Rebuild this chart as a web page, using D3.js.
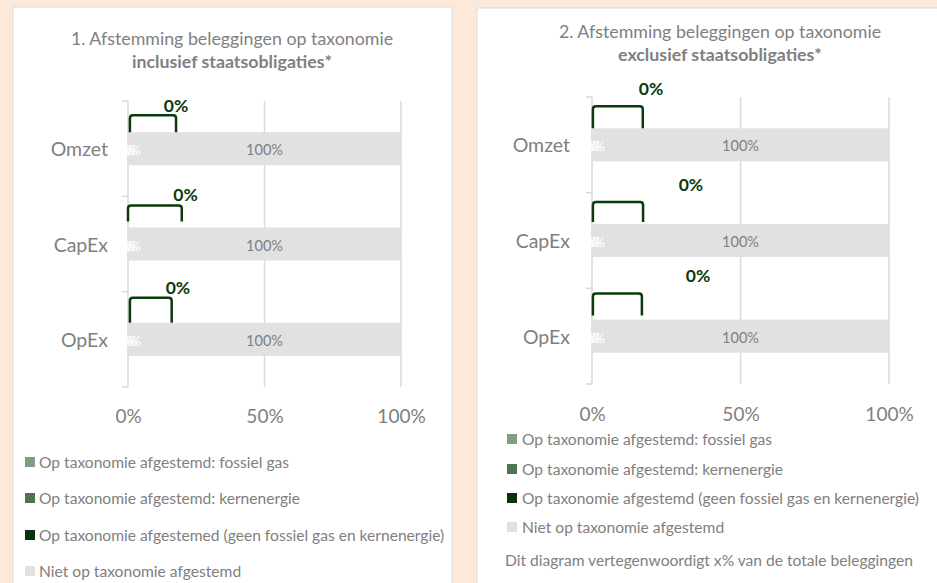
<!DOCTYPE html>
<html><head><meta charset="utf-8">
<script src="https://cdn.jsdelivr.net/npm/d3@7"></script>
<style>
html,body{margin:0;padding:0;background:#fde9d9;}
svg{display:block;font-family:Lato,"Open Sans",sans-serif;}
</style></head>
<body><svg id="c" width="937" height="583"></svg>
<script>
// ---- data ----
const categories = ["Omzet", "CapEx", "OpEx"];
const xTicks = [0, 50, 100];
const titles1 = ["1. Afstemming beleggingen op taxonomie", "inclusief staatsobligaties*"];
const titles2 = ["2. Afstemming beleggingen op taxonomie", "exclusief staatsobligaties*"];
const legend1 = ["Op taxonomie afgestemd: fossiel gas", "Op taxonomie afgestemd: kernenergie",
  "Op taxonomie afgestemed (geen fossiel gas en kernenergie)", "Niet op taxonomie afgestemd"];
const legend2 = ["Op taxonomie afgestemd: fossiel gas", "Op taxonomie afgestemd: kernenergie",
  "Op taxonomie afgestemd (geen fossiel gas en kernenergie)", "Niet op taxonomie afgestemd"];
const footnote2 = "Dit diagram vertegenwoordigt x% van de totale beleggingen";
// chart 1 (inclusief staatsobligaties)
const fossilGas1 = [0, 0, 0];
const nuclear1 = [0, 0, 0];
const aligned1 = [0, 0, 0];
const notAligned1 = [100, 100, 100];
// chart 2 (exclusief staatsobligaties)
const fossilGas2 = [0, 0, 0];
const nuclear2 = [0, 0, 0];
const aligned2 = [0, 0, 0];
const notAligned2 = [100, 100, 100];
const segmentLabels = ["x%", "x%", "x%", "100%"];
const calloutLabels1 = ["0%", "0%", "0%"];
const calloutLabels2 = ["0%", "0%", "0%"];

// ---- styling / layout ----
const colors = ["#819e82", "#4f7451", "#0a3309", "#e1e1e1"];
const textGray = "#808080";
const green = "#0b3a0b";

const layouts = [
  { panel: [13, 7, 439, 600], plot: { l: 128, r: 401, t: 101, b: 387 },
    titleX: 232, titleY: [38, 61], catRight: 108, axisY: 415,
    legend: { sx: 25, tx: 39, ys: [462, 498, 535, 571] },
    calloutX: [17.6, 21.1, 18.3], calloutDy: [-27, -33, -35],
    bracket: [[0.7, 17.6], [0, 19.7], [0.7, 16.0]], bracketDy: [-17, -22, -25], bracketEnd: [0, -6, 0] },
  { panel: [477, 8, 470, 600], plot: { l: 592, r: 889, t: 97, b: 384 },
    titleX: 720, titleY: [31, 54], catRight: 570, axisY: 413,
    legend: { sx: 507, tx: 522, ys: [439, 469, 498, 527] },
    calloutX: [19.9, 33.3, 35.7], calloutDy: [-40, -39, -44],
    bracket: [[0.3, 17.1], [0.3, 17.2], [0.3, 16.8]], bracketDy: [-22, -22, -26], bracketEnd: [0, -2, -4] }
];

const charts = [
  { titles: titles1, legend: legend1, series: [fossilGas1, nuclear1, aligned1, notAligned1], callouts: calloutLabels1, footnote: null },
  { titles: titles2, legend: legend2, series: [fossilGas2, nuclear2, aligned2, notAligned2], callouts: calloutLabels2, footnote: footnote2 }
];

const svg = d3.select("#c");

charts.forEach((ch, ci) => {
  const L = layouts[ci];
  const g = svg.append("g");
  g.append("rect").attr("x", L.panel[0]).attr("y", L.panel[1]).attr("width", L.panel[2]).attr("height", L.panel[3])
    .attr("fill", "#fff").attr("stroke", "#d9d9d9").attr("stroke-width", 1);

  // title
  ch.titles.forEach((t, i) => {
    g.append("text").attr("x", L.titleX).attr("y", L.titleY[i]).attr("text-anchor", "middle")
      .attr("dominant-baseline", "central").attr("fill", textGray)
      .attr("font-size", "17.8px").attr("font-weight", i === 1 ? "bold" : "normal").text(t);
  });

  const x = d3.scaleLinear().domain([0, 100]).range([L.plot.l, L.plot.r]);
  const y = d3.scaleBand().domain(categories).range([L.plot.t, L.plot.b]).paddingInner(0.654).paddingOuter(0.327);

  // gridlines
  g.append("g").selectAll("line").data(xTicks.filter(d => d > 0)).join("line")
    .attr("x1", d => x(d)).attr("x2", d => x(d)).attr("y1", L.plot.t).attr("y2", L.plot.b)
    .attr("stroke", "#d9d9d9").attr("stroke-width", 1.5);

  // left axis line with ticks at category boundaries
  const step = (L.plot.b - L.plot.t) / categories.length;
  g.append("line").attr("x1", x(0)).attr("x2", x(0)).attr("y1", L.plot.t).attr("y2", L.plot.b)
    .attr("stroke", "#d9d9d9").attr("stroke-width", 1.5);
  g.append("g").selectAll("line").data(d3.range(categories.length + 1)).join("line")
    .attr("x1", x(0) - 6).attr("x2", x(0)).attr("y1", d => L.plot.t + d * step).attr("y2", d => L.plot.t + d * step)
    .attr("stroke", "#d9d9d9").attr("stroke-width", 1.5);

  // x axis labels
  const xAxis = d3.axisBottom(x).tickValues(xTicks).tickFormat(d => d + "%").tickSize(0).tickPadding(0);
  const ax = g.append("g").attr("transform", `translate(0,${L.axisY})`).call(xAxis);
  ax.select(".domain").remove();
  ax.selectAll("text").attr("fill", textGray).attr("font-size", "19px").attr("font-family", "Lato")
    .attr("dy", null).attr("y", 0).attr("dominant-baseline", "central");

  // category labels
  g.append("g").selectAll("text").data(categories).join("text")
    .attr("x", L.catRight).attr("y", d => y(d) + y.bandwidth() / 2).attr("text-anchor", "end")
    .attr("dominant-baseline", "central").attr("fill", textGray).attr("font-size", "19.5px").text(d => d);

  // stacked bars
  const rows = categories.map((c, i) => {
    let acc = 0;
    return ch.series.map((s, si) => { const x0 = acc; acc += s[i]; return { cat: c, si, x0, x1: acc, v: s[i] }; });
  });
  const flat = rows.flat();
  g.append("g").selectAll("rect").data(flat).join("rect")
    .attr("x", d => x(d.x0)).attr("width", d => x(d.x1) - x(d.x0))
    .attr("y", d => y(d.cat)).attr("height", y.bandwidth()).attr("fill", d => colors[d.si]);

  // segment labels
  const labOffsets = [-4, 4, 0, 0];
  g.append("g").selectAll("text").data(flat).join("text")
    .attr("x", d => (x(d.x0) + x(d.x1)) / 2 + labOffsets[d.si])
    .attr("y", d => y(d.cat) + y.bandwidth() / 2 + 1)
    .attr("text-anchor", "middle").attr("dominant-baseline", "central")
    .attr("font-size", d => d.si === 3 ? "14.5px" : "14px")
    .attr("fill", d => d.si === 3 ? "#7f7f7f" : "#ffffff").text(d => segmentLabels[d.si]);

  // callout brackets + labels
  categories.forEach((c, i) => {
    const top = y(c);
    const xa = x(L.bracket[i][0]), xb = x(L.bracket[i][1]);
    const yt = top + L.bracketDy[i], yb = top + L.bracketEnd[i];
    const r = 3;
    g.append("path")
      .attr("d", `M${xa},${yb} L${xa},${yt + r} Q${xa},${yt} ${xa + r},${yt} L${xb - r},${yt} Q${xb},${yt} ${xb},${yt + r} L${xb},${yb}`)
      .attr("fill", "none").attr("stroke", green).attr("stroke-width", 2.5);
    g.append("text").attr("x", x(L.calloutX[i])).attr("y", top + L.calloutDy[i])
      .attr("text-anchor", "middle").attr("dominant-baseline", "central")
      .attr("font-weight", "bold").attr("font-size", "17.5px").attr("fill", green).text(ch.callouts[i]);
  });

  // legend
  ch.legend.forEach((t, i) => {
    const yy = L.legend.ys[i];
    g.append("rect").attr("x", L.legend.sx).attr("y", yy - 5).attr("width", 10).attr("height", 10).attr("fill", colors[i]);
    g.append("text").attr("x", L.legend.tx).attr("y", yy).attr("dominant-baseline", "central")
      .attr("fill", textGray).attr("font-size", "15.6px").text(t);
  });
  if (ch.footnote) {
    g.append("text").attr("x", L.legend.sx - 2).attr("y", 560).attr("dominant-baseline", "central")
      .attr("fill", textGray).attr("font-size", "15.6px").text(ch.footnote);
  }
});
</script></body></html>
